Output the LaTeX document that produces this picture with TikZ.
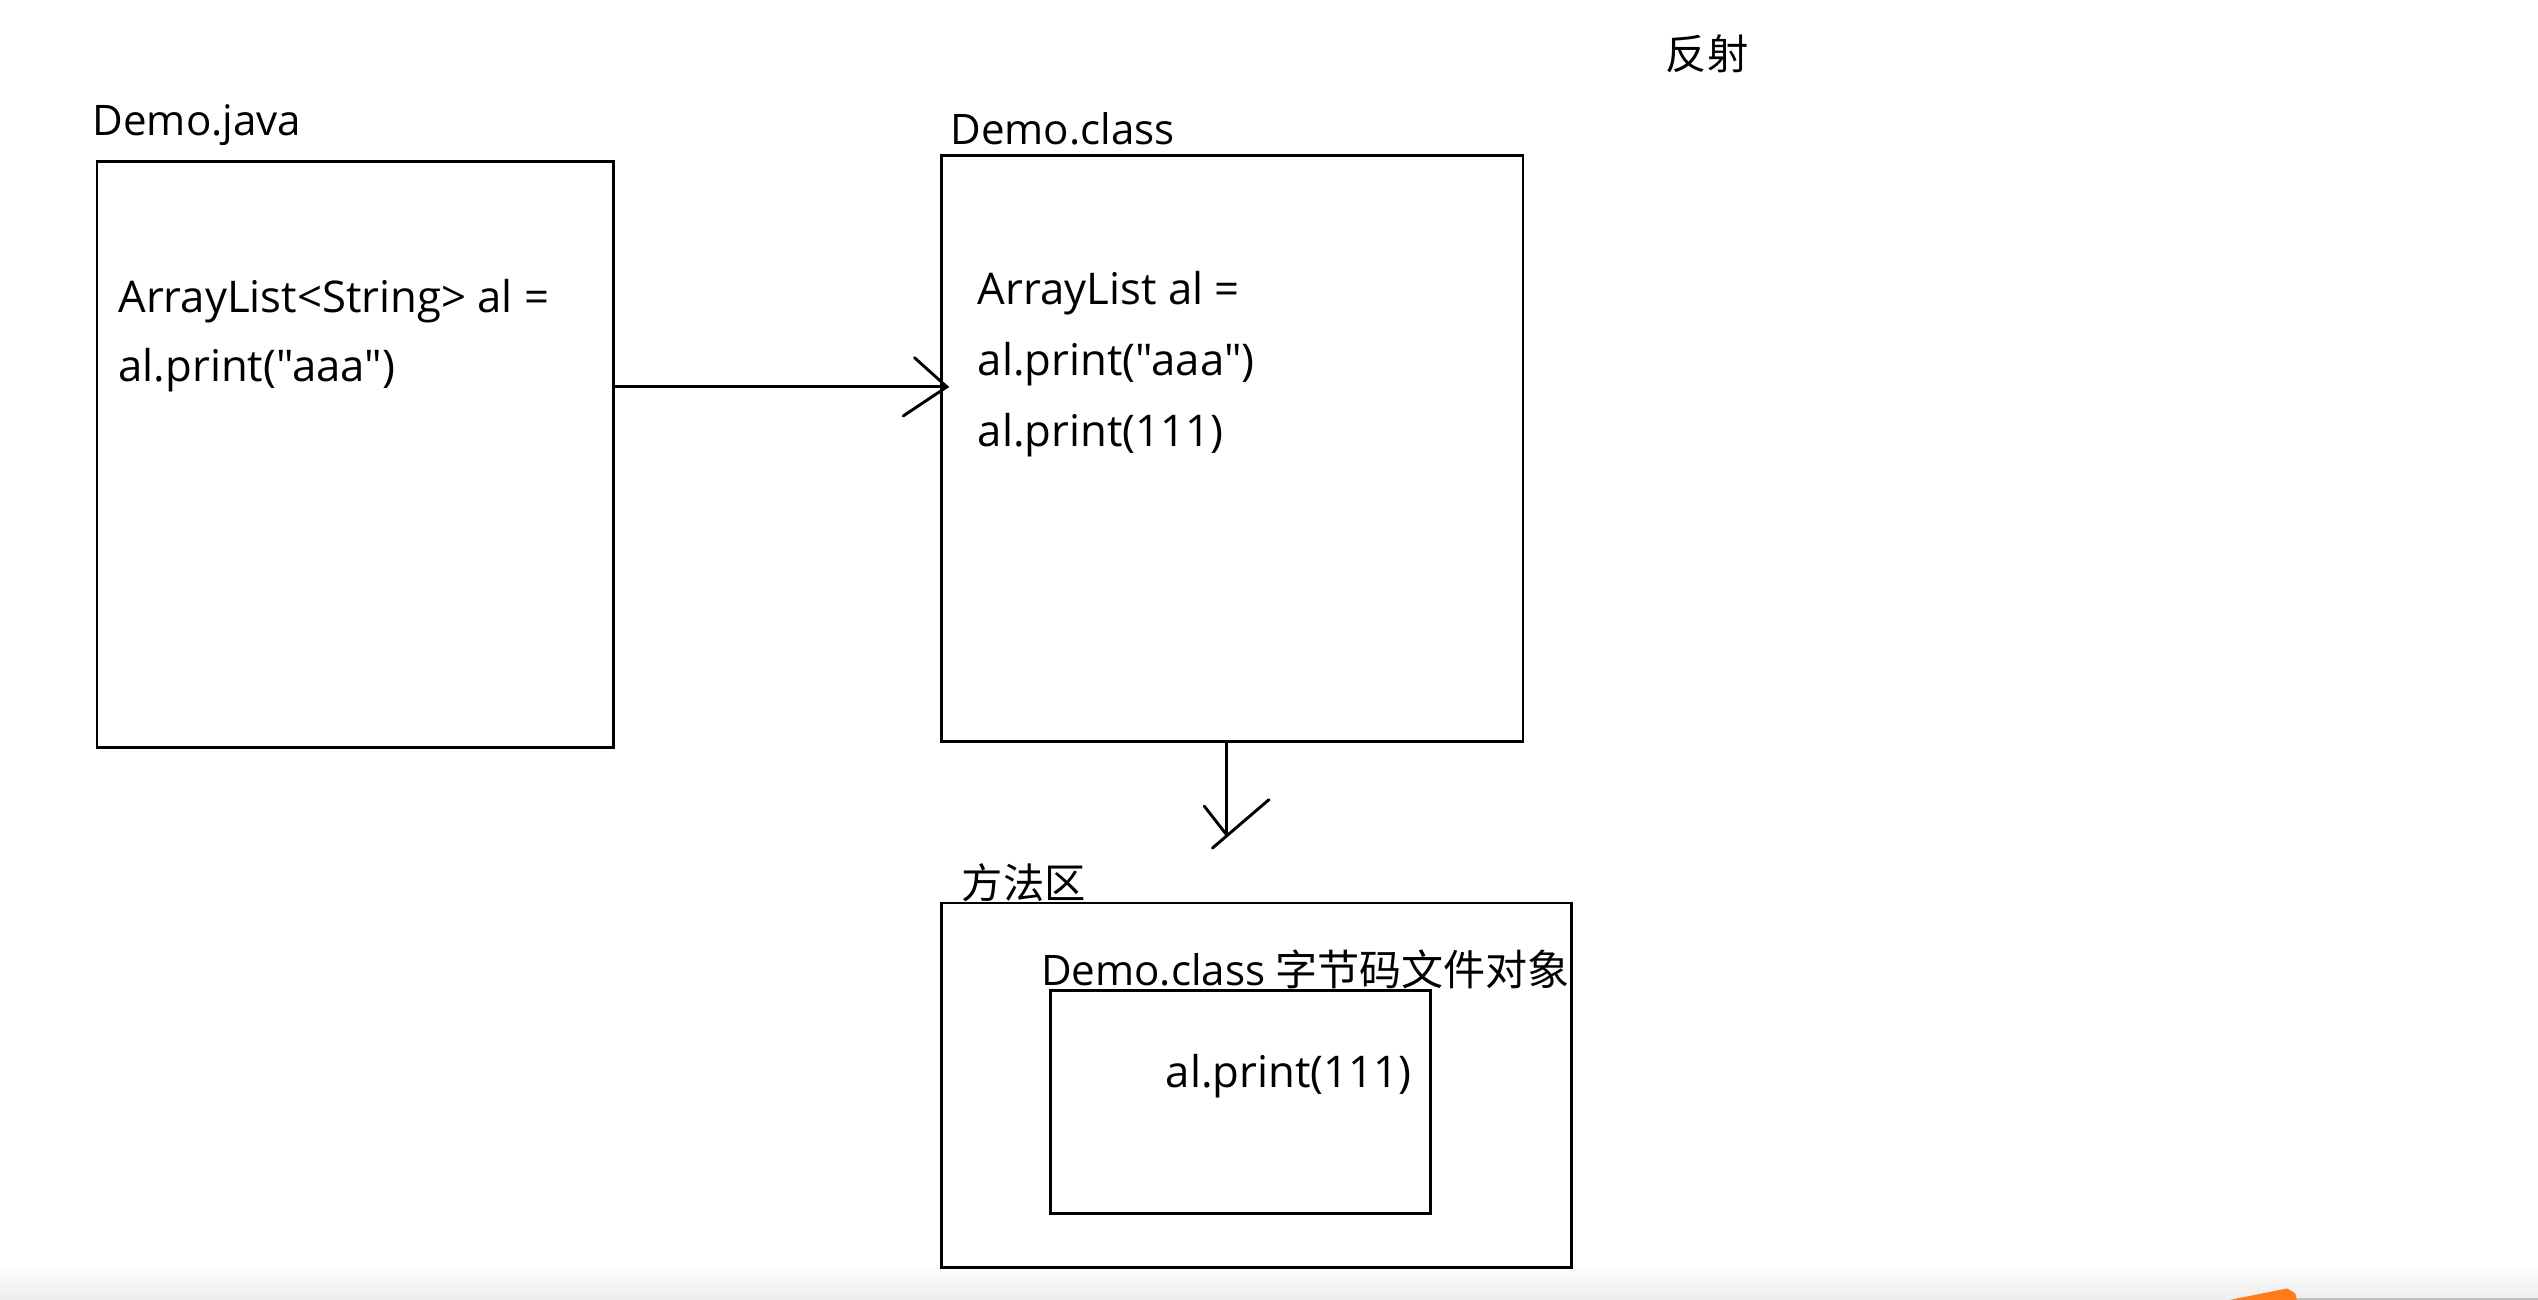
\documentclass[tikz,border=0pt]{standalone}
\usepackage{fontspec}
\setmainfont{Open Sans}[Ligatures=TeXOff]
\newfontfamily\cjk{Noto Sans CJK SC}
\begin{document}
\begin{tikzpicture}[x=1pt,y=-1pt,
  box/.style={draw=black, line width=1.8pt, inner sep=0pt, anchor=north west},
  txt/.style={anchor=base west, inner sep=0pt, font=\fontsize{27}{27}\selectfont},
  hdr/.style={anchor=base west, inner sep=0pt, font=\fontsize{26}{26}\selectfont},
  lbl/.style={anchor=base west, inner sep=0pt, font=\cjk\fontsize{25.5}{26}\selectfont},
  conn/.style={draw=black, line width=1.8pt, line cap=round}]
\fill[white] (0,0) rectangle (1568,803);
\useasboundingbox (0,0) rectangle (1568,803);
\shade[top color=white, bottom color=black!7] (0,780) rectangle (1568,803);
\fill[orange!85!red!90!white] (1378,803) -- (1413,796) -- (1418,799) -- (1419,803) -- cycle;
\draw[black!25, line width=0.8pt] (1419,802.5) -- (1568,802.5);

% labels
\node[lbl] (rlbl) at (1029,43) {反射};
\node[hdr] (jlbl) at (57,84) {Demo.java};
\node[hdr] (clbl) at (587,89) {Demo.class};
\node[lbl] (mlbl) at (594,555) {方法区};

% boxes
\node[box, minimum width=319pt, minimum height=362pt] (java) at (59,99) {};
\node[box, minimum width=359pt, minimum height=362pt] (cls) at (581,95) {};
\node[box, minimum width=389pt, minimum height=225pt] (area) at (581,557) {};
\node[box, minimum width=235pt, minimum height=138pt] (obj) at (648,611) {};
\node[hdr] (olbl) at (643,609) {Demo.class};
\node[lbl, anchor=base east, font=\cjk\fontsize{26}{27}\selectfont] (olbl2) at (970,609) {字节码文件对象};

% texts
\node[txt] (j1) at (73,193) {ArrayList<String> al =};
\node[txt] (j2) at (73,236) {al.print("aaa")};
\node[txt] (c1) at (604,188) {ArrayList al =};
\node[txt] (c2) at (604,232) {al.print("aaa")};
\node[txt] (c3) at (604,276) {al.print(111)};
\node[txt] (o1) at (720,672) {al.print(111)};

% connectors
\coordinate (a1) at (java.east |- 0,239);
\coordinate (a2) at (585,239);
\draw[conn] (a1) -- (a2);
\draw[conn] (565,221) -- (a2) -- (558,257);
\coordinate (b1) at (cls.south -| 758,0);
\coordinate (b2) at (758,516);
\draw[conn] (b1) -- (b2);
\draw[conn] (744,498) -- (b2);
\draw[conn] (784,494) -- (749,524);
\end{tikzpicture}
\end{document}
